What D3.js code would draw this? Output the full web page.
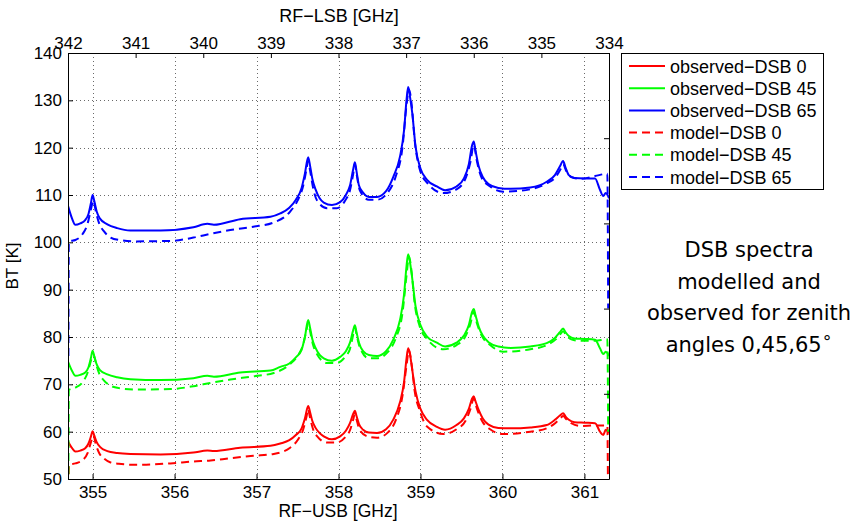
<!DOCTYPE html>
<html>
<head>
<meta charset="utf-8">
<script src="https://cdn.jsdelivr.net/npm/d3@7"></script>
<style>
  html, body { margin: 0; padding: 0; background: #fff; }
  svg { display: block; }
  svg text { font-family: "Liberation Sans", Arial, sans-serif; fill: #000; }
  svg text.ann { font-family: "DejaVu Sans", sans-serif; }
</style>
</head>
<body>
<svg id="chart" width="857" height="521"></svg>
<script>
// ---------------- DATA ----------------
const seriesNames = ["observed\u2212DSB 0", "observed\u2212DSB 45", "observed\u2212DSB 65",
                     "model\u2212DSB 0", "model\u2212DSB 45", "model\u2212DSB 65"];

// observed spectra: RF-USB frequency [GHz] and brightness temperature [K]
const obsFreq = [
  354.70, 354.75, 354.79, 354.85, 354.91, 354.95, 354.98, 355.00, 355.02, 355.05,
  355.09, 355.18, 355.30, 355.46, 355.83, 356.23, 356.40, 356.48, 356.80, 357.17,
  357.29, 357.40, 357.48, 357.55, 357.59, 357.63, 357.655, 357.68, 357.72, 357.77,
  357.82, 357.92, 358.02, 358.09, 358.14, 358.18, 358.20, 358.22, 358.25, 358.30,
  358.37, 358.47, 358.58, 358.67, 358.75, 358.80, 358.83, 358.85, 358.87, 358.90,
  358.94, 359.00, 359.08, 359.20, 359.30, 359.44, 359.53, 359.59, 359.63, 359.65,
  359.67, 359.71, 359.76, 359.83, 359.95, 360.10, 360.34, 360.54, 360.64, 360.70,
  360.74, 360.77, 360.81, 360.88, 361.00, 361.13, 361.19, 361.23, 361.26, 361.30];

const obs65 = [
  107.7, 105.0, 103.7, 104.0, 104.7, 106.0, 108.3, 110.0, 108.8, 106.5,
  105.0, 103.8, 103.0, 102.5, 102.5, 103.2, 103.9, 103.7, 104.9, 105.4,
  106.1, 107.3, 109.0, 111.5, 114.5, 118.0, 116.0, 113.5, 111.2, 109.3,
  108.4, 107.9, 108.5, 110.0, 112.0, 115.5, 116.9, 115.0, 112.0, 110.5,
  109.6, 109.6, 110.8, 113.9, 118.1, 123.7, 130.1, 132.8, 131.0, 127.3,
  120.2, 115.6, 113.2, 111.8, 111.0, 111.8, 113.5, 116.5, 120.5, 121.3,
  119.5, 116.1, 113.8, 112.3, 111.5, 111.3, 111.6, 112.8, 114.2, 116.0,
  117.2, 115.8, 114.2, 113.6, 113.5, 113.5, 111.1, 109.8, 110.4, 109.3];

const obs45 = [
  74.8, 72.8, 71.8, 72.0, 72.5, 73.6, 75.6, 77.1, 76.0, 74.2,
  73.0, 72.1, 71.5, 71.1, 70.9, 71.3, 71.8, 71.6, 72.5, 72.9,
  73.7, 74.4, 75.7, 77.3, 80.0, 83.6, 81.8, 79.6, 77.7, 76.2,
  75.5, 75.0, 75.8, 77.0, 78.8, 81.5, 82.5, 81.0, 78.8, 77.0,
  76.2, 76.0, 77.0, 79.5, 83.6, 89.0, 95.0, 97.5, 96.0, 92.3,
  86.5, 82.5, 80.1, 78.8, 78.0, 78.8, 80.3, 82.5, 85.3, 85.9,
  84.7, 82.2, 80.3, 78.9, 78.0, 77.7, 78.0, 78.7, 79.8, 81.0,
  81.8, 81.0, 80.2, 79.7, 79.6, 79.4, 77.6, 76.4, 76.9, 76.0];

const obs0 = [
  57.9, 56.5, 55.8, 56.0, 56.5, 57.5, 59.0, 60.1, 59.2, 57.8,
  56.8, 55.9, 55.5, 55.3, 55.2, 55.6, 56.0, 55.9, 56.6, 57.0,
  57.5, 58.2, 59.3, 60.7, 62.8, 65.4, 64.0, 62.3, 60.8, 59.7,
  59.0, 58.4, 59.0, 60.2, 61.8, 63.8, 64.4, 63.3, 61.6, 60.4,
  59.8, 59.7, 60.5, 62.6, 66.2, 70.5, 75.5, 77.6, 76.5, 73.0,
  68.5, 64.8, 62.5, 61.0, 60.4, 61.4, 62.8, 64.8, 67.0, 67.5,
  66.5, 64.6, 62.8, 61.5, 60.8, 60.7, 60.9, 61.4, 62.5, 63.4,
  63.9, 63.2, 62.5, 62.0, 61.9, 61.8, 60.0, 59.3, 60.4, 59.7];

// modelled spectra
const modFreq = [
  354.705, 354.71, 354.79, 354.88, 354.94, 354.98, 355.01, 355.04, 355.08, 355.14,
  355.22, 355.32, 355.54, 355.95, 356.23, 356.44, 356.68, 356.96, 357.21, 357.41,
  357.50, 357.57, 357.61, 357.63, 357.65, 357.69, 357.74, 357.86, 357.98, 358.08,
  358.14, 358.18, 358.20, 358.22, 358.26, 358.37, 358.47, 358.60, 358.70, 358.78,
  358.83, 358.86, 358.89, 358.93, 358.99, 359.08, 359.28, 359.44, 359.55, 359.61,
  359.65, 359.69, 359.75, 359.85, 360.01, 360.34, 360.54, 360.65, 360.71, 360.74,
  360.78, 360.84, 360.95, 361.13, 361.28, 361.29];

const mod65 = [
  76, 100.2, 100.5, 101.8, 104.0, 107.0, 108.8, 106.5, 104.0, 102.3,
  101.0, 100.5, 100.2, 100.3, 101.0, 101.8, 102.6, 103.3, 104.2, 106.5,
  108.8, 112.0, 115.5, 117.2, 115.5, 111.5, 108.8, 107.2, 107.2, 108.8,
  111.0, 114.5, 116.5, 114.5, 111.0, 109.0, 109.0, 110.5, 114.0, 120.0,
  129.0, 132.3, 129.5, 121.5, 115.5, 112.6, 110.4, 111.2, 113.5, 117.0,
  120.6, 117.0, 113.5, 111.8, 110.7, 111.2, 112.5, 113.8, 115.5, 116.5,
  115.0, 113.8, 113.4, 114.0, 114.5, 86];

const mod45 = [
  51, 68.8, 69.3, 70.5, 72.5, 75.0, 76.3, 74.5, 72.3, 70.8,
  69.7, 69.2, 68.9, 69.0, 69.6, 70.3, 71.0, 71.7, 72.4, 74.3,
  76.0, 78.5, 81.5, 83.0, 81.5, 78.3, 76.3, 74.5, 74.5, 75.8,
  77.5, 80.5, 82.0, 80.5, 77.8, 75.5, 75.5, 76.8, 79.8, 85.0,
  93.0, 97.0, 94.0, 87.0, 82.3, 79.6, 77.4, 78.3, 80.2, 82.8,
  85.3, 82.8, 80.2, 78.3, 76.9, 77.4, 78.3, 79.5, 80.7, 81.2,
  80.3, 79.5, 79.2, 79.2, 79.5, 60];

const mod0 = [
  40, 53.0, 53.3, 54.0, 55.5, 57.8, 59.2, 57.3, 55.5, 54.3,
  53.5, 53.2, 53.0, 53.3, 53.7, 53.9, 54.4, 54.9, 55.3, 56.6,
  58.2, 60.5, 63.2, 64.8, 63.2, 60.5, 59.0, 57.7, 57.7, 58.8,
  60.3, 62.6, 63.8, 62.6, 60.3, 58.9, 58.7, 59.8, 62.5, 67.5,
  74.0, 77.2, 74.5, 68.5, 64.5, 61.1, 59.5, 60.5, 62.3, 64.8,
  67.0, 64.8, 62.3, 60.5, 59.5, 60.0, 60.7, 61.9, 62.9, 63.3,
  62.6, 61.8, 61.2, 61.3, 61.3, 40];

const usbTicks = [355, 356, 357, 358, 359, 360, 361];
const lsbTicks = [342, 341, 340, 339, 338, 337, 336, 335, 334];
const btTicks = [50, 60, 70, 80, 90, 100, 110, 120, 130, 140];
const rightTicks = [0, 1, 2, 3, 4, 5];
const seriesColors = ["#ff0000", "#00ff00", "#0000ff", "#ff0000", "#00ff00", "#0000ff"];
const annotation = ["DSB spectra", "modelled and", "observed for zenith", "angles 0,45,65"];

// ---------------- LAYOUT ----------------
const L = 68, R = 609, T = 53, B = 479;
const svg = d3.select("#chart");

const x = d3.scaleLinear().domain([354.7, 361.3]).range([L, R]);
const xTop = d3.scaleLinear().domain([342, 334]).range([L, R]);
const y = d3.scaleLinear().domain([50, 140]).range([B, T]);
const yRight = d3.scaleLinear().domain([0, 5]).range([B, T]);

svg.append("defs").append("clipPath").attr("id", "plotclip")
  .append("rect").attr("x", L).attr("y", T).attr("width", R - L).attr("height", B - T);

// grid
const grid = svg.append("g").attr("stroke", "#6a6a6a").attr("stroke-width", 1)
  .attr("stroke-dasharray", "1,3").attr("shape-rendering", "crispEdges");
usbTicks.forEach(t => {
  grid.append("line").attr("x1", Math.round(x(t)) + 0.5).attr("x2", Math.round(x(t)) + 0.5)
    .attr("y1", T).attr("y2", B);
});
btTicks.filter(t => t > 50 && t < 140).forEach(t => {
  grid.append("line").attr("y1", Math.round(y(t)) + 0.5).attr("y2", Math.round(y(t)) + 0.5)
    .attr("x1", L).attr("x2", R);
});

// series
const plot = svg.append("g").attr("clip-path", "url(#plotclip)");
const line = d3.line().x(d => x(d[0])).y(d => y(d[1])).curve(d3.curveMonotoneX);
const allSeries = [
  { f: obsFreq, v: obs0, dash: null },
  { f: obsFreq, v: obs45, dash: null },
  { f: obsFreq, v: obs65, dash: null },
  { f: modFreq, v: mod0, dash: "8,5" },
  { f: modFreq, v: mod45, dash: "8,5" },
  { f: modFreq, v: mod65, dash: "8,5" }
];
allSeries.forEach((s, i) => {
  plot.append("path")
    .attr("d", line(s.f.map((f, j) => [f, s.v[j]])))
    .attr("fill", "none")
    .attr("stroke", seriesColors[i])
    .attr("stroke-width", 2)
    .attr("stroke-linejoin", "round")
    .attr("stroke-dasharray", s.dash);
});

// axes (MATLAB style: inward ticks)
const tickLen = 5;
const bottomAxis = d3.axisBottom(x).tickValues(usbTicks).tickSizeInner(-tickLen).tickSizeOuter(0).tickPadding(6.5).tickFormat(d3.format("d"));
const topAxis = d3.axisTop(xTop).tickValues(lsbTicks).tickSizeInner(-tickLen).tickSizeOuter(0).tickPadding(4).tickFormat(d3.format("d"));
const leftAxis = d3.axisLeft(y).tickValues(btTicks).tickSizeInner(-tickLen).tickSizeOuter(0).tickPadding(6).tickFormat(d3.format("d"));
const rightAxis = d3.axisRight(yRight).tickValues(rightTicks).tickSizeInner(-tickLen).tickSizeOuter(0).tickFormat("");

function styleAxis(g) {
  g.attr("font-family", null).attr("font-size", null);
  g.selectAll("path").attr("stroke", "#000").attr("stroke-width", 1);
  g.selectAll("line").attr("stroke", "#000").attr("stroke-width", 1);
  g.selectAll("text").style("font-size", "17px").attr("fill", "#000");
}
styleAxis(svg.append("g").attr("transform", `translate(0,${B})`).call(bottomAxis));
styleAxis(svg.append("g").attr("transform", `translate(0,${T})`).call(topAxis));
styleAxis(svg.append("g").attr("transform", `translate(${L},0)`).call(leftAxis));
styleAxis(svg.append("g").attr("transform", `translate(${R},0)`).call(rightAxis));

// axis titles
svg.append("text").attr("x", 339).attr("y", 22).attr("text-anchor", "middle")
  .style("font-size", "18px").text("RF\u2212LSB [GHz]");
svg.append("text").attr("x", 338).attr("y", 517.3).attr("text-anchor", "middle")
  .style("font-size", "17.5px").text("RF\u2212USB [GHz]");
svg.append("text").attr("transform", "translate(18,266) rotate(-90)").attr("text-anchor", "middle")
  .style("font-size", "17px").text("BT [K]");

// legend
const lg = svg.append("g");
lg.append("rect").attr("x", 621.5).attr("y", 53.5).attr("width", 202).attr("height", 136)
  .attr("fill", "#fff").attr("stroke", "#000").attr("stroke-width", 1);
seriesNames.forEach((name, i) => {
  const yy = 66 + i * 22.2;
  lg.append("line").attr("x1", 629).attr("x2", 665).attr("y1", yy).attr("y2", yy)
    .attr("stroke", seriesColors[i]).attr("stroke-width", 2)
    .attr("stroke-dasharray", i >= 3 ? "8,5" : null);
  lg.append("text").attr("x", 670).attr("y", yy + 6.5)
    .style("font-size", "18px").text(name);
});

// annotation
const ann = svg.append("text").attr("class", "ann").attr("text-anchor", "middle")
  .style("font-size", "21px");
annotation.forEach((t, i) => {
  ann.append("tspan").attr("x", 749).attr("y", 257 + i * 31.6).text(t);
  if (i === annotation.length - 1) {
    ann.append("tspan").attr("dy", -9).style("font-size", "17px").text("\u2218");
  }
});
</script>
</body>
</html>
